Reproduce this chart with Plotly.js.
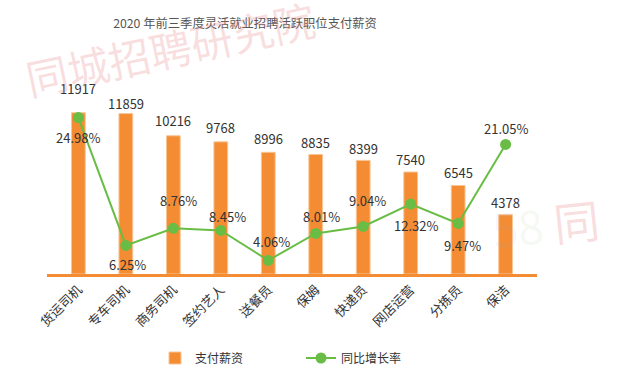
<!DOCTYPE html>
<html>
<head>
<meta charset="utf-8">
<script src="https://cdn.plot.ly/plotly-3.0.1.min.js"></script>
<style>html,body{margin:0;padding:0;background:#fff;}#chart{width:619px;height:383px;}</style>
</head>
<body>
<div id="chart"></div>
<script>
// ---- data ----
const categories = ['货运司机','专车司机','商务司机','签约艺人','送餐员','保姆','快递员','网店运营','分拣员','保洁'];
const salary = [11917, 11859, 10216, 9768, 8996, 8835, 8399, 7540, 6545, 4378];
const growthRate = [24.98, 6.25, 8.76, 8.45, 4.06, 8.01, 9.04, 12.32, 9.47, 21.05];
const seriesNames = ['支付薪资', '同比增长率'];
const chartTitle = '2020 年前三季度灵活就业招聘活跃职位支付薪资';
const watermarkText = '同城招聘研究院';

// ---- style ----
const FONT = '"Noto Sans CJK SC", "Noto Sans", sans-serif';
const ORANGE = '#F38C32';
const GREEN = '#69BD45';
const salaryLabelDy = [24, 10, 15, 14, 14, 12, 12, 13, 13, 12];
const rateLabelDy = [-20, -19, 28, 14, 19, 17, 26, -21, -22, 16];
const rateLabelDx = [0, 2, 5, 7, 3, 6, 4, 5, 4, 0];

const traces = [
  {
    type: 'bar', name: seriesNames[0], x: categories, y: salary,
    width: 0.29,
    marker: {color: ORANGE, line: {color: '#F9C595', width: 1}},
    hoverinfo: 'skip'
  },
  {
    type: 'scatter', mode: 'lines+markers', name: seriesNames[1],
    x: categories, y: growthRate, yaxis: 'y2',
    line: {color: GREEN, width: 2},
    marker: {color: GREEN, size: 11},
    hoverinfo: 'skip'
  }
];

const annotations = [];
categories.forEach((c, i) => {
  annotations.push({
    x: c, y: salary[i], xref: 'x', yref: 'y', text: String(salary[i]),
    showarrow: false, yanchor: 'middle', xanchor: 'center', yshift: salaryLabelDy[i],
    font: {family: FONT, size: 13, color: '#333'}
  });
  annotations.push({
    x: c, y: growthRate[i], xref: 'x', yref: 'y2', text: growthRate[i].toFixed(2) + '%',
    showarrow: false, yanchor: 'middle', xanchor: 'center', yshift: rateLabelDy[i], xshift: rateLabelDx[i],
    font: {family: FONT, size: 13, color: '#333'}
  });
});
// watermarks (pixel positions converted to paper coordinates)
const px2x = p => (p - 47) / 490;
const px2y = p => (275 - p) / 190;
annotations.push({
  xref: 'paper', yref: 'paper', x: px2x(170), y: px2y(47), xanchor: 'center', yanchor: 'middle',
  text: watermarkText, showarrow: false, textangle: -12,
  font: {family: FONT, size: 42, color: 'rgba(232,140,140,0.28)'}
});
annotations.push({
  xref: 'paper', yref: 'paper', x: px2x(545), y: px2y(224), xanchor: 'center', yanchor: 'middle',
  text: '<span style="color:rgba(175,165,205,0.42)">5</span><span style="color:rgba(190,210,160,0.48)">8</span> 同',
  showarrow: false, textangle: -6,
  font: {family: FONT, size: 46, color: 'rgba(232,140,140,0.28)'}
});

const layout = {
  width: 619, height: 383,
  margin: {l: 47, r: 82, t: 85, b: 108, pad: 0},
  paper_bgcolor: '#fff', plot_bgcolor: '#fff',
  font: {family: FONT, color: '#333'},
  title: {
    text: chartTitle, x: 245 / 619, xanchor: 'center', xref: 'container',
    y: 1 - 24 / 383, yanchor: 'middle', yref: 'container',
    font: {family: FONT, size: 12.3, color: '#555'}
  },
  xaxis: {
    type: 'category', showline: true, linecolor: ORANGE, linewidth: 3,
    ticks: '', showgrid: false, zeroline: false, tickangle: -45,
    tickfont: {family: FONT, size: 13, color: '#333'}
  },
  yaxis: {range: [0, 13971], visible: false, showgrid: false, zeroline: false},
  yaxis2: {range: [2.07, 29.75], overlaying: 'y', visible: false, showgrid: false, zeroline: false},
  showlegend: true,
  legend: {
    orientation: 'h', x: px2x(155), xanchor: 'left', y: px2y(358), yanchor: 'middle',
    entrywidth: 101, entrywidthmode: 'pixels',
    font: {family: FONT, size: 12, color: '#333'}, bgcolor: 'rgba(0,0,0,0)'
  },
  annotations: annotations,
  bargap: 0.5
};

Plotly.newPlot('chart', traces, layout, {staticPlot: true, displayModeBar: false});
</script>
</body>
</html>
